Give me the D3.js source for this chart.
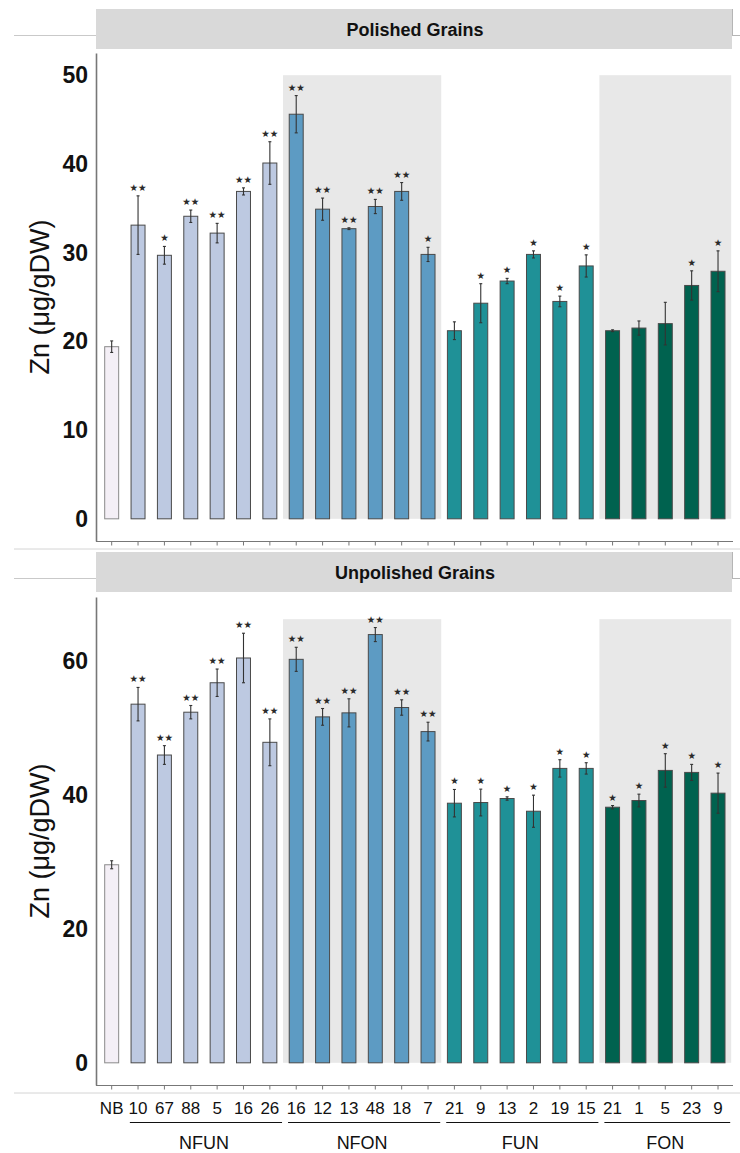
<!DOCTYPE html>
<html>
<head>
<meta charset="utf-8">
<script src="https://cdn.jsdelivr.net/npm/d3@7"></script>
<style>
  html, body { margin: 0; padding: 0; background: #fff; }
  svg { display: block; font-family: "Liberation Sans", Arial, sans-serif; }
</style>
</head>
<body>
<div id="chart"></div>
<script>
// lines (x-axis tick labels) and the group each belongs to
var lines = ["NB", "10", "67", "88", "5", "16", "26", "16", "12", "13", "48", "18", "7",
             "21", "9", "13", "2", "19", "15", "21", "1", "5", "23", "9"];
var groupOf = ["NB", "NFUN", "NFUN", "NFUN", "NFUN", "NFUN", "NFUN",
               "NFON", "NFON", "NFON", "NFON", "NFON", "NFON",
               "FUN", "FUN", "FUN", "FUN", "FUN", "FUN",
               "FON", "FON", "FON", "FON", "FON"];
var groupNames = ["NFUN", "NFON", "FUN", "FON"];
var shadedGroups = ["NFON", "FON"];

// Zn, polished grains
var polishedMean = [19.4, 33.1, 29.7, 34.1, 32.2, 36.9, 40.1, 45.6, 34.9, 32.7, 35.2, 36.9, 29.8,
                    21.2, 24.3, 26.8, 29.8, 24.5, 28.5, 21.2, 21.5, 22.0, 26.3, 27.9];
var polishedErr = [0.65, 3.3, 1.0, 0.7, 1.1, 0.4, 2.4, 2.1, 1.25, 0.1, 0.8, 1.0, 0.8,
                   1.0, 2.2, 0.3, 0.4, 0.6, 1.25, 0.1, 0.8, 2.4, 1.65, 2.3];
var polishedSig = ["", "**", "*", "**", "**", "**", "**", "**", "**", "**", "**", "**", "*",
                   "", "*", "*", "*", "*", "*", "", "", "", "*", "*"];

// Zn, unpolished grains
var unpolishedMean = [29.6, 53.6, 46.0, 52.4, 56.8, 60.5, 47.9, 60.3, 51.7, 52.3, 64.0, 53.1, 49.5,
                      38.8, 38.9, 39.5, 37.6, 44.0, 44.0, 38.2, 39.2, 43.7, 43.4, 40.3];
var unpolishedErr = [0.6, 2.5, 1.4, 1.0, 2.05, 3.7, 3.5, 1.8, 1.25, 2.1, 1.05, 1.15, 1.4,
                     2.05, 2.0, 0.25, 2.4, 1.3, 0.85, 0.25, 0.95, 2.5, 1.2, 3.0];
var unpolishedSig = ["", "**", "**", "**", "**", "**", "**", "**", "**", "**", "**", "**", "**",
                     "*", "*", "*", "*", "*", "*", "*", "*", "*", "*", "*"];

var polishedTicks = [0, 10, 20, 30, 40, 50];
var unpolishedTicks = [0, 20, 40, 60];

var colors = {NB: "#f4eff6", NFUN: "#bdc9e1", NFON: "#5d9bc3", FUN: "#1f9197", FON: "#00624f"};

var W = 740, H = 1153;
var svg = d3.select("#chart").append("svg").attr("width", W).attr("height", H);

var ids = d3.range(lines.length);
var x = d3.scaleBand().domain(ids).range([98.5, 731.2]).padding(0);
var barW = x.bandwidth() * 0.53;

// thin separator rules of the figure
function rule(x1, y1, x2, y2, c) {
    svg.append("line").attr("x1", x1).attr("y1", y1).attr("x2", x2).attr("y2", y2)
        .attr("stroke", c).attr("stroke-width", 1);
}

function drawPanel(p) {
    var y = d3.scaleLinear().domain([-0.05 * p.max, 1.05 * p.max]).range([p.bottom, p.top]);
    var g = svg.append("g");

    // strip header
    rule(14, p.head + 26.5, 96, p.head + 26.5, "#c9c9c9");
    rule(732, p.head + 26.5, 740, p.head + 26.5, "#b5b5b5");
    rule(732.5, p.head, 732.5, p.head + 26.5, "#b5b5b5");
    g.append("rect").attr("x", 96).attr("y", p.head).attr("width", 636).attr("height", 40)
        .attr("fill", "#d9d9d9");
    g.append("text").attr("x", 415).attr("y", p.head + 26.5)
        .attr("text-anchor", "middle").attr("font-weight", "bold").attr("font-size", 18)
        .attr("fill", "#111").text(p.title);

    // shaded groups
    shadedGroups.forEach(function (gr) {
        var idx = ids.filter(function (i) { return groupOf[i] === gr; });
        var x0 = x(idx[0]), x1 = x(idx[idx.length - 1]) + x.bandwidth();
        g.append("rect").attr("x", x0).attr("y", y(p.max))
            .attr("width", x1 - x0).attr("height", y(0) - y(p.max))
            .attr("fill", "#e8e8e8");
    });

    // bars
    g.selectAll(".bar").data(ids).enter().append("rect")
        .attr("x", function (i) { return x(i) + (x.bandwidth() - barW) / 2; })
        .attr("y", function (i) { return y(p.mean[i]); })
        .attr("width", barW)
        .attr("height", function (i) { return y(0) - y(p.mean[i]); })
        .attr("fill", function (i) { return colors[groupOf[i]]; })
        .attr("stroke", function (i) { return i === 0 ? "#8a8a8a" : "#4a4a4a"; })
        .attr("stroke-width", 1);

    // error bars
    var cx = function (i) { return x(i) + x.bandwidth() / 2; };
    var eb = g.selectAll(".err").data(ids).enter().append("g").attr("stroke", "#333")
        .attr("stroke-width", 1.1);
    eb.append("line").attr("x1", cx).attr("x2", cx)
        .attr("y1", function (i) { return y(p.mean[i] - p.err[i]); })
        .attr("y2", function (i) { return y(p.mean[i] + p.err[i]); });
    eb.append("line").attr("x1", function (i) { return cx(i) - 1.5; })
        .attr("x2", function (i) { return cx(i) + 1.5; })
        .attr("y1", function (i) { return y(p.mean[i] + p.err[i]); })
        .attr("y2", function (i) { return y(p.mean[i] + p.err[i]); });
    eb.append("line").attr("x1", function (i) { return cx(i) - 1.5; })
        .attr("x2", function (i) { return cx(i) + 1.5; })
        .attr("y1", function (i) { return y(p.mean[i] - p.err[i]); })
        .attr("y2", function (i) { return y(p.mean[i] - p.err[i]); });

    // significance stars
    g.selectAll(".sig").data(ids.filter(function (i) { return p.sig[i]; })).enter()
        .append("text")
        .attr("x", cx)
        .attr("y", function (i) { return y(p.mean[i] + p.err[i]) - 5; })
        .attr("text-anchor", "middle")
        .attr("font-family", "DejaVu Sans")
        .attr("font-size", 9.5)
        .attr("fill", "#2a2a2a")
        .text(function (i) { return p.sig[i] === "**" ? "\u2605\u2605" : "\u2605"; });

    // y axis
    var yAxis = g.append("g").attr("transform", "translate(96,0)")
        .call(d3.axisLeft(y).tickValues(p.ticks).tickSize(0).tickSizeOuter(0).tickPadding(8));
    yAxis.select(".domain").attr("stroke", "#777").attr("stroke-width", 1.6);
    yAxis.selectAll("text").attr("font-size", 23).attr("font-weight", "bold")
        .attr("font-family", "Liberation Sans, Arial, sans-serif").attr("fill", "#111");

    // y title
    g.append("text")
        .attr("transform", "translate(40," + ((p.top + p.bottom) / 2) + ") rotate(-90)")
        .attr("text-anchor", "middle").attr("dy", "0.35em")
        .attr("font-size", 27).attr("fill", "#111")
        .text("Zn (\u03BCg/gDW)");

    // x axis
    rule(96, p.bottom + 0.5, 733, p.bottom + 0.5, "#777");
    var xAxis = g.append("g").attr("transform", "translate(0," + (p.bottom + 0.5) + ")")
        .call(d3.axisBottom(x).tickSize(4).tickPadding(12)
            .tickFormat(function (i) { return p.labels ? lines[i] : ""; }));
    xAxis.select(".domain").remove();
    xAxis.selectAll("line").attr("stroke", "#777");
    xAxis.selectAll("text").attr("font-size", 17)
        .attr("font-family", "Liberation Sans, Arial, sans-serif").attr("fill", "#111");

    rule(14, p.bottom + 8, 740, p.bottom + 8, "#d4d4d4");
}

drawPanel({title: "Polished Grains", head: 9, top: 53, bottom: 541, max: 50,
           ticks: polishedTicks, mean: polishedMean, err: polishedErr, sig: polishedSig, labels: false});
drawPanel({title: "Unpolished Grains", head: 552, top: 597, bottom: 1085, max: 66.3,
           ticks: unpolishedTicks, mean: unpolishedMean, err: unpolishedErr, sig: unpolishedSig, labels: true});

// group brackets under the bottom axis
groupNames.forEach(function (gr) {
    var idx = ids.filter(function (i) { return groupOf[i] === gr; });
    var x0 = x(idx[0]), x1 = x(idx[idx.length - 1]) + x.bandwidth();
    svg.append("line").attr("x1", x0 + 5).attr("x2", x1 - 1)
        .attr("y1", 1122.5).attr("y2", 1122.5).attr("stroke", "#111").attr("stroke-width", 1.2);
    svg.append("text").attr("x", (x0 + x1) / 2)
        .attr("y", 1149).attr("text-anchor", "middle").attr("font-size", 18)
        .attr("fill", "#111").text(gr);
});
</script>
</body>
</html>
